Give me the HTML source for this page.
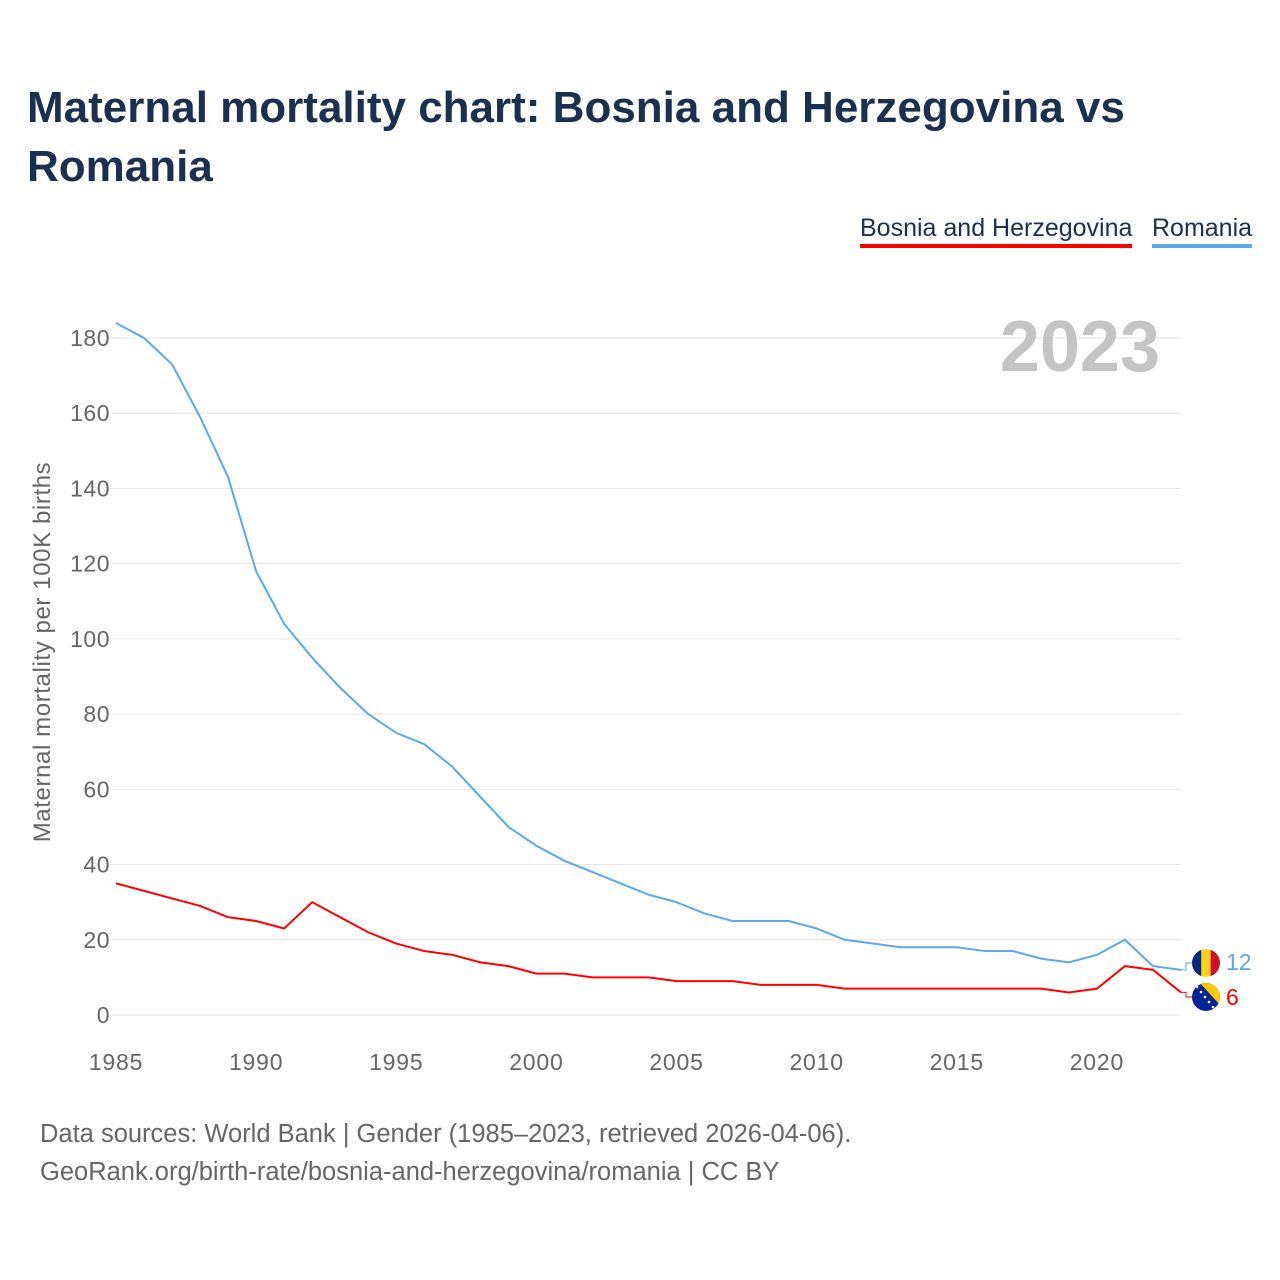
<!DOCTYPE html>
<html><head><meta charset="utf-8">
<style>
body{margin:0;background:#fff;font-family:"Liberation Sans",sans-serif;}
#wrap{position:relative;width:1280px;height:1280px;overflow:hidden;}
h1{position:absolute;left:27px;top:78px;margin:0;font-size:44px;letter-spacing:0px;line-height:59px;color:#1a3050;font-weight:bold;width:1200px;}
.leg{position:absolute;top:214px;font-size:25px;color:#1a3050;padding-bottom:1px;}
.foot{position:absolute;left:40px;font-size:25.5px;color:#666;}
</style></head><body>
<div id="wrap">
<h1>Maternal mortality chart: Bosnia and Herzegovina vs Romania</h1>
<div class="leg" style="left:860px;border-bottom:4px solid #ff0000">Bosnia and Herzegovina</div>
<div class="leg" style="left:1152px;border-bottom:4px solid #5ba8ec">Romania</div>
<svg id="chart" width="1280" height="1280" style="position:absolute;left:0;top:0"></svg>
<div class="foot" style="top:1120px">Data sources: World Bank | Gender (1985–2023, retrieved 2026-04-06).</div>
<div class="foot" style="top:1158px">GeoRank.org/birth-rate/bosnia-and-herzegovina/romania | CC BY</div>
</div>
<script>
const years=[1985,1986,1987,1988,1989,1990,1991,1992,1993,1994,1995,1996,1997,1998,1999,2000,2001,2002,2003,2004,2005,2006,2007,2008,2009,2010,2011,2012,2013,2014,2015,2016,2017,2018,2019,2020,2021,2022,2023];
const romania=[184,180,173,159,143,118,104,95,87,80,75,72,66,58,50,45,41,38,35,32,30,27,25,25,25,23,20,19,18,18,18,17,17,15,14,16,20,13,12];
const bosnia=[35,33,31,29,26,25,23,30,26,22,19,17,16,14,13,11,11,10,10,10,9,9,9,8,8,8,7,7,7,7,7,7,7,7,6,7,13,12,6];
const yTicks=[0,20,40,60,80,100,120,140,160,180];
const xTicks=[1985,1990,1995,2000,2005,2010,2015,2020];
const svg=document.getElementById('chart');const NS='http://www.w3.org/2000/svg';
const X=v=>116+(v-1985)*(1181-116)/38;
const Y=v=>1015-v*(1015-338)/180;
function mk(t,a,txt){const e=document.createElementNS(NS,t);for(const k in a)e.setAttribute(k,a[k]);if(txt!==undefined)e.textContent=txt;svg.appendChild(e);return e;}
yTicks.forEach(v=>{
 const g=mk('line',{x1:110,x2:1181,y1:Y(v),y2:Y(v),stroke:'#e6e6e6','stroke-width':1});
 
 
 const t=mk('text',{x:110,y:Y(v)+8,'text-anchor':'end','font-size':23,'letter-spacing':0.5,fill:'#666','font-family':'Liberation Sans, sans-serif'},v);
 
 
});
xTicks.forEach(v=>{
 const t=mk('text',{x:X(v),y:1070,'text-anchor':'middle','font-size':23,'letter-spacing':0.8,fill:'#666','font-family':'Liberation Sans, sans-serif'},v);
 
 
});
const yt=mk('text',{transform:'translate(50,652) rotate(-90)','text-anchor':'middle','font-size':24,'letter-spacing':0.6,fill:'#666','font-family':'Liberation Sans, sans-serif'},'Maternal mortality per 100K births');


const yr=mk('text',{x:1160,y:371,'text-anchor':'end','font-size':72,'font-weight':'bold',fill:'#c4c4c4','font-family':'Liberation Sans, sans-serif'},'2023');


function line(d,c,n){const p=mk('polyline',{points:d.map((v,i)=>X(years[i])+','+Y(v)).join(' '),fill:'none',stroke:c,'stroke-width':2});
 
 }
line(romania,'#5ba8ec','romania-line');
line(bosnia,'#ff0000','bosnia-line');
const rl=romania[romania.length-1],bl=bosnia[bosnia.length-1];
mk('polyline',{points:`${X(2023)},${Y(rl)} 1186,${Y(rl)} 1186,963 1192,963`,fill:'none',stroke:'#5ba8ec','stroke-width':1});
mk('polyline',{points:`${X(2023)},${Y(bl)} 1186,${Y(bl)} 1186,997 1192,997`,fill:'none',stroke:'#ff0000','stroke-width':1});
mk('clipPath',{id:'c1'});const c1c=document.createElementNS(NS,'circle');c1c.setAttribute('cx',1206);c1c.setAttribute('cy',963);c1c.setAttribute('r',14);document.getElementById('c1').appendChild(c1c);
const rf=mk('g',{'clip-path':'url(#c1)'});


[['#002b7f',1192],['#fcd116',1201.3],['#ce1126',1210.6]].forEach(([c,x])=>{const r=document.createElementNS(NS,'rect');r.setAttribute('x',x);r.setAttribute('y',949);r.setAttribute('width',9.4);r.setAttribute('height',28);r.setAttribute('fill',c);rf.appendChild(r);});
mk('clipPath',{id:'c2'});const cc=document.createElementNS(NS,'circle');cc.setAttribute('cx',1206);cc.setAttribute('cy',997);cc.setAttribute('r',14);document.getElementById('c2').appendChild(cc);
const bf=mk('g',{'clip-path':'url(#c2)'});


bf.innerHTML='<rect x="1192" y="983" width="28" height="28" fill="#002395"/><polygon points="1200,983 1220,983 1220,1005" fill="#fecb00"/><g fill="#fff"><circle cx="1197" cy="987" r="1.3"/><circle cx="1201" cy="992" r="1.3"/><circle cx="1205" cy="997" r="1.3"/><circle cx="1209" cy="1002" r="1.3"/><circle cx="1213" cy="1007" r="1.3"/></g>';
const l1=mk('text',{x:1226,y:970,'font-size':23,fill:'#5ba8ec','font-family':'Liberation Sans, sans-serif'},rl);


const l2=mk('text',{x:1226,y:1005,'font-size':23,fill:'#ff0000','font-family':'Liberation Sans, sans-serif'},bl);


</script>
</body></html>
